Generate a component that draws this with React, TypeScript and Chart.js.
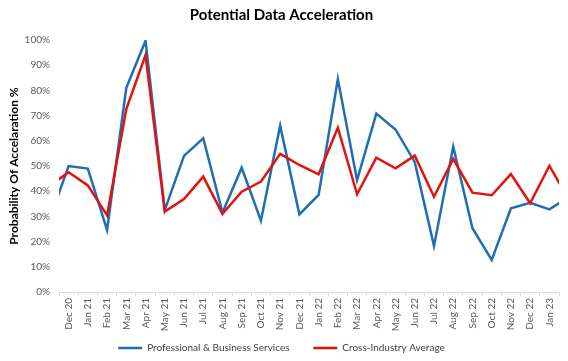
import React, { useEffect, useRef } from "react";
import { Chart, registerables } from "chart.js";

Chart.register(...registerables);

// Nov 20 and Feb 23 lie just outside the visible range (their segments are clipped at the plot edges)
const months = [
  "Nov 20", "Dec 20", "Jan 21", "Feb 21", "Mar 21", "Apr 21", "May 21", "Jun 21", "Jul 21",
  "Aug 21", "Sep 21", "Oct 21", "Nov 21", "Dec 21", "Jan 22", "Feb 22", "Mar 22", "Apr 22",
  "May 22", "Jun 22", "Jul 22", "Aug 22", "Sep 22", "Oct 22", "Nov 22", "Dec 22", "Jan 23", "Feb 23",
];
const firstShownIndex = 1;
const lastShownIndex = 26;

const professional = [
  28.7, 50, 49, 24.6, 81, 99.7, 32.5, 54, 61,
  31.5, 49.3, 28.3, 66, 30.8, 38.5, 84.5, 44.4, 70.8,
  64.5, 51.5, 18.3, 57.7, 25.3, 12.7, 33.2, 35.4, 32.8, 37.6,
];
const crossIndustry = [
  42.1, 47.5, 42.3, 30.4, 72.6, 94, 31.9, 36.9, 45.8,
  31, 39.8, 43.8, 54.8, 50.4, 46.7, 65.2, 38.8, 53.3,
  49.1, 54.1, 37.8, 52.8, 39.4, 38.4, 46.8, 35.2, 50.1, 36.9,
];
const yTicks = [0, 10, 20, 30, 40, 50, 60, 70, 80, 90, 100];

const FONT = "Lato, 'Liberation Sans', sans-serif";

const toPoints = (values: number[]) => values.map((v, i) => ({ x: i, y: v }));

export default function App() {
  const ref = useRef<HTMLCanvasElement | null>(null);
  useEffect(() => {
    if (!ref.current) return;
    const chart = new Chart(ref.current, {
      type: "line",
      data: {
        datasets: [
          {
            label: "Professional & Business Services",
            data: toPoints(professional),
            borderColor: "#1f6eb5",
            backgroundColor: "#1f6eb5",
            borderWidth: 2.5,
            pointRadius: 0,
            tension: 0,
            order: 1,
          },
          {
            label: "Cross-Industry Average",
            data: toPoints(crossIndustry),
            borderColor: "#e3120b",
            backgroundColor: "#e3120b",
            borderWidth: 2.5,
            pointRadius: 0,
            tension: 0,
            order: 0,
          },
        ],
      },
      options: {
        animation: false,
        responsive: false,
        devicePixelRatio: 1,
        layout: { padding: { left: 4, right: 9, top: 0, bottom: -2 } },
        plugins: {
          tooltip: { enabled: false },
          title: {
            display: true,
            text: "Potential Data Acceleration",
            color: "#000000",
            font: { family: FONT, size: 15, weight: "bold" },
            padding: { top: 6, bottom: 16 },
          },
          legend: {
            position: "bottom",
            labels: {
              usePointStyle: true,
              pointStyle: "line",
              pointStyleWidth: 24,
              padding: 11,
              color: "#404040",
              font: { family: FONT, size: 10 },
              sort: (a: any, b: any) => a.datasetIndex - b.datasetIndex,
              generateLabels: (c: any) => {
                const items = Chart.defaults.plugins.legend.labels.generateLabels(c);
                items.sort((a: any, b: any) => a.datasetIndex - b.datasetIndex);
                if (items.length) items[0].text = items[0].text + "     ";
                return items;
              },
            },
          },
        },
        scales: {
          x: {
            type: "linear",
            min: firstShownIndex - 0.5,
            max: lastShownIndex + 0.5,
            afterBuildTicks: (scale: any) => {
              const t = [];
              for (let i = firstShownIndex; i <= lastShownIndex; i++) t.push({ value: i });
              scale.ticks = t;
            },
            grid: {
              display: true,
              drawOnChartArea: false,
              drawTicks: true,
              tickLength: 4,
              offset: true,
              color: "#d9d9d9",
            },
            border: { display: true, color: "#d9d9d9" },
            ticks: {
              autoSkip: false,
              maxRotation: 90,
              minRotation: 90,
              padding: 2,
              color: "#595959",
              font: { family: FONT, size: 10 },
              callback: (v: any) => months[Math.round(v)] ?? "",
            },
            afterFit: (scale: any) => {
              scale.height = 40;
            },
          },
          y: {
            min: 0,
            max: 100,
            afterBuildTicks: (scale: any) => {
              scale.ticks = yTicks.map((v) => ({ value: v }));
            },
            grid: { display: false, drawTicks: false },
            border: { display: false },
            title: {
              display: true,
              text: "Probability Of Accelaration %",
              color: "#000000",
              font: { family: FONT, size: 12, weight: "bold" },
              padding: { top: 3, bottom: 0 },
            },
            ticks: {
              padding: 9,
              color: "#595959",
              font: { family: FONT, size: 10 },
              callback: (v: any) => `${v}%`,
            },
            afterFit: (scale: any) => {
              scale.width = 55;
            },
          },
        },
      },
    });
    return () => chart.destroy();
  }, []);
  return (
    <div style={{ position: "absolute", left: 0, top: 0, width: 568, height: 361, background: "#ffffff" }}>
      <canvas ref={ref} width={568} height={361} style={{ display: "block", width: 568, height: 361 }} />
    </div>
  );
}
